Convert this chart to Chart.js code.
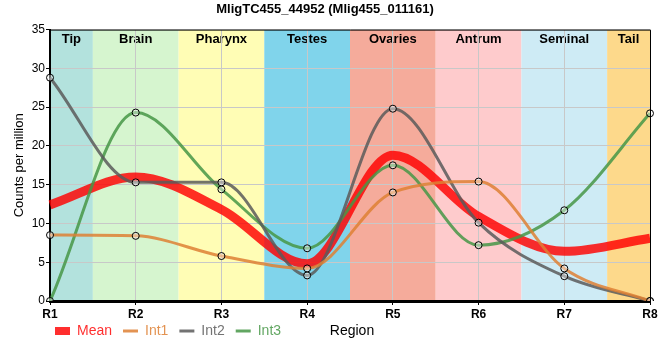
<!DOCTYPE html>
<html>
<head>
<meta charset="utf-8">
<script src="https://cdn.jsdelivr.net/npm/chart.js@4"></script>
<style>
html,body{margin:0;padding:0;background:#fff;}
#wrap{width:660px;height:360px;}
</style>
</head>
<body>
<div id="wrap"><canvas id="c" width="660" height="360"></canvas></div>
<script>
const titleText = 'MligTC455_44952 (Mlig455_011161)';
const categories = ['R1','R2','R3','R4','R5','R6','R7','R8'];
const regionNames = ['Tip','Brain','Pharynx','Testes','Ovaries','Antrum','Seminal','Tail'];
const regionColors = ['#b3e2dd','#d6f5cf','#fffdb5','#80d4eb','#f5ab9b','#fecbcc','#ceebf5','#fdd98b'];
const int1 = [8.5, 8.4, 5.8, 4.2, 14.0, 15.4, 4.2, 0];
const int2 = [28.8, 15.3, 15.3, 3.3, 24.8, 10.1, 3.2, 0];
const int3 = [0, 24.3, 14.4, 6.8, 17.5, 7.2, 11.7, 24.2];
const meanVals = [12.4, 16.0, 11.8, 4.8, 18.8, 10.9, 6.4, 8.1];
const yTicks = [0,5,10,15,20,25,30,35];

const FONT = "'Liberation Sans', Arial, sans-serif";

const bandsPlugin = {
  id: 'bands',
  beforeDraw(chart) {
    const {ctx, chartArea: a, scales: {x}} = chart;
    ctx.save();
    ctx.beginPath();
    ctx.rect(a.left, a.top, a.right - a.left, a.bottom - a.top);
    ctx.clip();
    regionNames.forEach((name, i) => {
      const l = Math.max(a.left, x.getPixelForValue(i - 0.5));
      const r = Math.min(a.right, x.getPixelForValue(i + 0.5));
      ctx.fillStyle = regionColors[i];
      ctx.fillRect(l, a.top, r - l, a.bottom - a.top);
    });
    ctx.fillStyle = '#000';
    ctx.font = 'bold 13px ' + FONT;
    ctx.textAlign = 'center';
    ctx.textBaseline = 'middle';
    regionNames.forEach((name, i) => {
      const l = Math.max(a.left, x.getPixelForValue(i - 0.5));
      const r = Math.min(a.right, x.getPixelForValue(i + 0.5));
      ctx.fillText(name, (l + r) / 2, a.top + 10);
    });
    ctx.restore();
  },
  afterLayout(chart) {
    const lg = chart.legend;
    if (lg) {
      const pad = lg.options.labels.padding;
      const h = lg.height;
      lg.left = 44;
      lg.top = 331 - pad - 7;
      lg.bottom = lg.top + h;
    }
  },
  afterDraw(chart) {
    const {ctx, chartArea: a} = chart;
    ctx.save();
    ctx.strokeStyle = '#000';
    ctx.lineWidth = 1;
    ctx.beginPath();
    ctx.moveTo(a.left, a.top + 0.5);
    ctx.lineTo(a.right + 0.5, a.top + 0.5);
    ctx.lineTo(a.right + 0.5, a.bottom);
    ctx.stroke();
    ctx.fillStyle = '#000';
    ctx.font = '14px ' + FONT;
    ctx.textAlign = 'center';
    ctx.textBaseline = 'middle';
    ctx.fillText('Region', (a.left + a.right) / 2 + 2, 331);
    ctx.restore();
  }
};

const pointFill = 'rgba(255,255,255,0.4)';
function intSet(label, data, color) {
  return {
    label, data,
    borderColor: color,
    backgroundColor: color,
    borderWidth: 3,
    pointRadius: 3.5,
    pointBorderWidth: 1,
    pointBorderColor: '#000',
    pointBackgroundColor: pointFill,
    cubicInterpolationMode: 'monotone',
    fill: false,
    order: 0
  };
}

const chart = new Chart(document.getElementById('c'), {
  type: 'line',
  data: {
    labels: categories,
    datasets: [
      {
        label: 'Mean', data: meanVals,
        borderColor: 'rgba(255,0,0,0.82)',
        backgroundColor: 'rgba(255,0,0,0.82)',
        borderWidth: 9, pointRadius: 0,
        cubicInterpolationMode: 'monotone', fill: false,
        order: 1
      },
      intSet('Int1', int1, 'rgba(222,128,52,0.85)'),
      intSet('Int2', int2, 'rgba(90,90,90,0.85)'),
      intSet('Int3', int3, 'rgba(70,150,70,0.85)')
    ]
  },
  options: {
    responsive: false,
    animation: false,
    layout: {padding: {left: 0, right: 10, top: 0, bottom: 0}},
    plugins: {
      tooltip: {enabled: false},
      title: {
        display: true, text: titleText, color: '#000',
        font: {family: FONT, size: 13, weight: 'bold'},
        padding: {top: 2, bottom: 12}
      },
      legend: {
        display: true, position: 'bottom', align: 'start',
        labels: {
          usePointStyle: true, pointStyleWidth: 15, padding: 11,
          font: {family: FONT, size: 14},
          generateLabels(ch) {
            return ch.data.datasets.map((ds, i) => ({
              text: ds.label,
              fillStyle: ds.borderColor,
              strokeStyle: ds.borderColor,
              fontColor: ds.borderColor,
              lineWidth: ds.label === 'Mean' ? 8 : ds.borderWidth,
              lineCap: 'butt',
              pointStyle: 'line',
              hidden: false,
              datasetIndex: i
            }));
          }
        }
      }
    },
    scales: {
      x: {
        type: 'category',
        offset: false,
        grid: {color: '#c8c8c8', lineWidth: 1, tickLength: 4, tickColor: '#000', drawTicks: true},
        border: {color: '#000', width: 3},
        ticks: {color: '#000', padding: 2, font: {family: FONT, size: 12, weight: 'bold'}, maxRotation: 0, autoSkip: false},
        afterFit(s) { s.height = 24; }
      },
      y: {
        min: 0, max: 35,
        afterBuildTicks(s) { s.ticks = yTicks.map(v => ({value: v})); },
        grid: {color: '#c8c8c8', lineWidth: 1, tickLength: 4, tickColor: '#000'},
        border: {color: '#000', width: 2},
        ticks: {color: '#000', padding: 1, font: {family: FONT, size: 12}},
        title: {display: true, text: 'Counts per million', color: '#000', font: {family: FONT, size: 13}, padding: {top: 12, bottom: 0}},
        afterFit(s) { s.width = 50; }
      }
    }
  },
  plugins: [bandsPlugin]
});
</script>
</body>
</html>
